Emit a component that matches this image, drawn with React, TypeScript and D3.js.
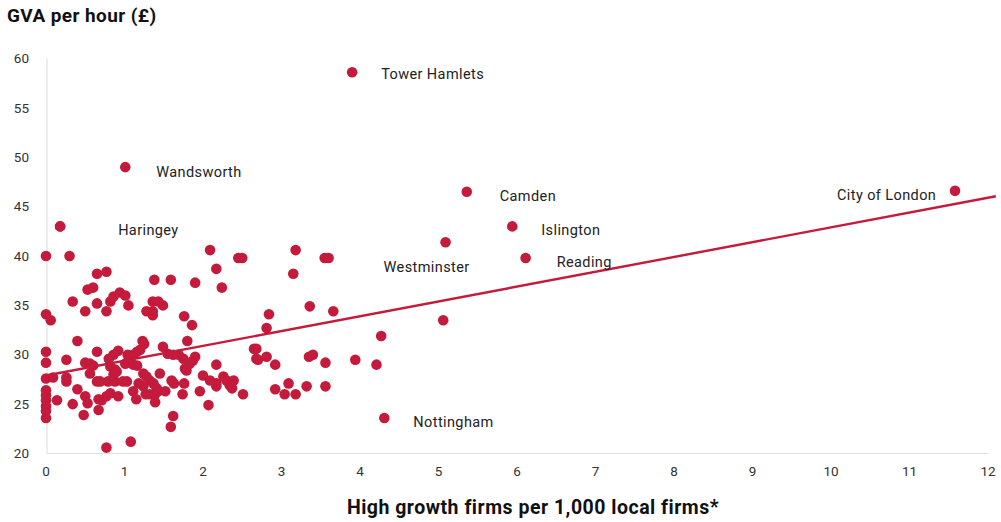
import React from 'react';
import * as d3 from 'd3';

// High growth firms per 1,000 local firms (x) and GVA per hour in £ (y)
const firms = [
  0, 0.30, 2.09, 2.45, 2.50, 0.65, 0.77, 2.17, 1.38, 1.59, 1.90, 2.24, 0.53, 0.60,
  0.94, 1.01, 0.86, 0.82, 0.34, 0.65, 1.05, 1.36, 1.43, 1.49, 0.50, 0.77, 1.28, 1.36,
  1.36, 0, 0.06, 1.76, 1.86, 0.40, 1.23, 1.25, 1.80, 1.49, 0, 0.65, 0.92, 0.86,
  0.80, 1.04, 1.11, 1.16, 1.20, 1.55, 1.62, 1.69, 1.75, 1.90, 1.87, 1.83, 0.26, 0,
  0.50, 0.56, 0.60, 1.01, 1.11, 1.16, 0.82, 0.88, 2.65, 2.68, 1.77, 1.79, 0, 0.09,
  0.26, 0.26, 0.56, 0.65, 0.69, 0.79, 0.88, 0.98, 1.03, 0.86, 0.90, 1.24, 1.28, 1.32,
  1.37, 1.41, 1.45, 1.18, 1.24, 1.60, 1.63, 1.76, 2.00, 2.09, 2.17, 2.17, 2.26, 2.30,
  2.34, 2.39, 2.37, 2.17, 0.40, 0, 0, 0, 0, 0, 0, 0.14, 0.50, 0.53,
  0.34, 0.48, 0.67, 0.67, 0.71, 0.77, 0.82, 0.92, 1.11, 1.15, 1.27, 1.32, 1.39, 1.43,
  1.39, 1.52, 1.74, 1.96, 2.07, 2.51, 1.62, 1.59, 0.77, 1.08, 3.18, 3.15, 3.55, 3.60,
  3.36, 3.66, 2.84, 2.81, 4.27, 2.68, 2.70, 2.81, 2.92, 3.35, 3.40, 3.56, 3.94, 4.21,
  2.92, 3.09, 3.04, 3.18, 3.32, 3.56, 5.06, 0.18,
];
const gva = [
  40.0, 40.0, 40.6, 39.8, 39.8, 38.2, 38.4, 38.7, 37.6, 37.6, 37.3, 36.8, 36.6, 36.8,
  36.3, 36.0, 35.9, 35.4, 35.4, 35.2, 35.0, 35.4, 35.4, 35.0, 34.4, 34.4, 34.4, 34.4,
  34.0, 34.1, 33.5, 33.9, 33.0, 31.4, 31.4, 31.1, 31.4, 30.8, 30.3, 30.3, 30.4, 30.0,
  29.6, 30.0, 30.0, 30.3, 30.5, 30.1, 30.0, 30.0, 29.6, 29.8, 29.4, 29.1, 29.5, 29.2,
  29.2, 29.1, 28.9, 29.1, 29.0, 28.9, 28.8, 28.5, 30.6, 29.6, 28.6, 28.4, 27.6, 27.7,
  27.7, 27.3, 28.1, 27.3, 27.3, 27.3, 27.3, 27.3, 27.3, 28.0, 28.3, 28.1, 27.8, 27.4,
  27.1, 26.6, 28.1, 27.1, 26.8, 27.4, 27.1, 27.1, 27.9, 27.4, 26.8, 27.1, 27.8, 27.4,
  26.9, 27.4, 26.6, 29.0, 26.5, 26.4, 25.9, 25.4, 24.8, 24.3, 23.6, 25.4, 25.8, 25.1,
  25.0, 23.9, 24.4, 25.5, 25.4, 25.8, 26.1, 25.8, 26.3, 25.5, 26.0, 26.0, 26.0, 26.3,
  25.2, 26.3, 26.0, 26.3, 24.9, 26.0, 23.8, 22.7, 20.6, 21.2, 40.6, 38.2, 39.8, 39.8,
  34.9, 34.4, 34.1, 32.7, 31.9, 30.6, 29.5, 29.8, 29.0, 29.8, 30.0, 29.2, 29.5, 29.0,
  26.5, 27.1, 26.0, 26.0, 26.8, 26.8, 33.5, 43.0,
];

// Labelled local authorities
const labelNames = ['Tower Hamlets', 'Wandsworth', 'Camden', 'City of London', 'Islington', 'Westminster', 'Reading', 'Nottingham', 'Haringey'];
const labelFirms = [3.90, 1.01, 5.36, 11.58, 5.94, 5.09, 6.11, 4.31, 0.18];
const labelGva = [58.6, 49.0, 46.5, 46.6, 43.0, 41.4, 39.8, 23.6, 43.0];
// text offset in px relative to the dot
const labelDx = [29, 31, 33, -118, 29, -62, 31, 29, 58];
const labelDy = [2, 5, 4, 4, 4, 25, 4, 4, 4];

const xTicks = d3.range(0, 13);
const yTicks = [20, 25, 30, 35, 40, 45, 50, 55, 60];

// fitted trend line
const trendIntercept = 27.9;
const trendSlope = 1.5;
const trendEnd = 12.1;

const RED = '#c41a3b';
const FONT = 'Roboto, "DejaVu Sans", sans-serif';

export default function App() {
  const width = 1001;
  const height = 522;
  const x = d3.scaleLinear().domain([0, 12]).range([46, 988]);
  const y = d3.scaleLinear().domain([20, 60]).range([453.5, 58.5]);

  const line = d3.line<number>().x(d => x(d)).y(d => y(trendIntercept + trendSlope * d));
  const points = firms.map((f, i) => ({ f, g: gva[i] }));

  return (
    <svg width={width} height={height} style={{ position: 'absolute', left: 0, top: 0, background: '#fff' }}
      fontFamily={FONT}>
      <text x={7} y={22} fontSize={19} fontWeight={700} letterSpacing={0.4} fill="#111">GVA per hour (£)</text>

      {/* axes */}
      <line x1={x(0) + 1} x2={x(0) + 1} y1={y(60)} y2={y(20)} stroke="#e2e2e2" strokeWidth={1.2} />
      <line x1={x(0) + 1} x2={989} y1={y(20)} y2={y(20)} stroke="#e2e2e2" strokeWidth={1.2} />

      {yTicks.map(t => (
        <text key={t} x={29} y={y(t)} dy="0.35em" textAnchor="end" fontSize={13.5} fill="#333">{t}</text>
      ))}
      {xTicks.map(t => (
        <text key={t} x={x(t)} y={476} textAnchor="middle" fontSize={13.5} fill="#333">{t}</text>
      ))}

      <text x={533} y={514} textAnchor="middle" fontSize={19.5} fontWeight={700} letterSpacing={0.5} fill="#111">
        High growth firms per 1,000 local firms*
      </text>

      {points.map((p, i) => (
        <circle key={i} cx={x(p.f)} cy={y(p.g)} r={5.3} fill={RED} />
      ))}
      {labelNames.map((n, i) => (
        <circle key={n} cx={x(labelFirms[i])} cy={y(labelGva[i])} r={5.3} fill={RED} />
      ))}

      <path d={line([0, trendEnd]) || ''} stroke={RED} strokeWidth={2.4} fill="none" />

      {labelNames.map((n, i) => (
        <text key={n} x={x(labelFirms[i]) + labelDx[i]} y={y(labelGva[i]) + labelDy[i]} dy="0.35em"
          fontSize={14.5} letterSpacing={0.4} fill="#222">{n}</text>
      ))}
    </svg>
  );
}
